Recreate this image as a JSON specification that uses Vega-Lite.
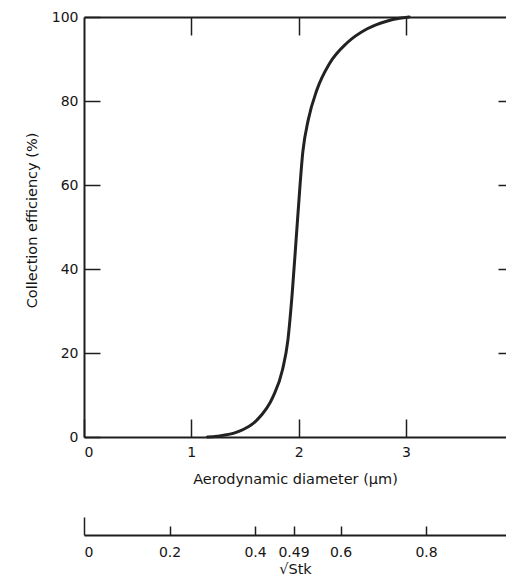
{
  "$schema": "https://vega.github.io/schema/vega-lite/v6.json",
  "width": 422,
  "height": 420,
  "autosize": {"type": "none"},
  "padding": {"left": 84, "top": 17, "right": 0, "bottom": 151},
  "background": "white",
  "config": {
    "view": {"stroke": null},
    "axis": {
      "grid": false,
      "labelFont": "DejaVu Sans",
      "titleFont": "DejaVu Sans",
      "labelFontSize": 14,
      "titleFontSize": 14.5,
      "titleFontWeight": "normal",
      "labelColor": "#151515",
      "titleColor": "#151515",
      "domainColor": "#1e1e1e",
      "domainWidth": 2,
      "tickColor": "#1e1e1e",
      "tickWidth": 1.5
    }
  },
  "layer": [
    {
      "data": {"values": [
        {"d": 1.15, "eff": 0},
        {"d": 1.24, "eff": 0.2},
        {"d": 1.43, "eff": 1.2},
        {"d": 1.61, "eff": 4},
        {"d": 1.76, "eff": 9.5},
        {"d": 1.85, "eff": 16},
        {"d": 1.90, "eff": 23},
        {"d": 1.94, "eff": 34},
        {"d": 1.99, "eff": 51.7},
        {"d": 2.04, "eff": 68},
        {"d": 2.09, "eff": 75.5},
        {"d": 2.17, "eff": 82.6},
        {"d": 2.29, "eff": 89},
        {"d": 2.45, "eff": 93.8},
        {"d": 2.64, "eff": 97.2},
        {"d": 2.82, "eff": 99.0},
        {"d": 2.94, "eff": 99.7},
        {"d": 3.03, "eff": 100}
      ]},
      "mark": {"type": "line", "interpolate": "monotone", "color": "#222222", "strokeWidth": 3, "strokeCap": "round"},
      "encoding": {
        "x": {
          "field": "d", "type": "quantitative",
          "scale": {"domain": [0, 3.933], "nice": false, "zero": false},
          "axis": {"orient": "bottom", "values": [0, 1, 2, 3], "format": "d", "tickSize": -18, "labelPadding": 26, "title": "Aerodynamic diameter (μm)", "titlePadding": 13}
        },
        "y": {
          "field": "eff", "type": "quantitative",
          "scale": {"domain": [0, 100], "nice": false},
          "axis": {"orient": "left", "values": [0, 20, 40, 60, 80, 100], "format": "d", "tickSize": -16, "labelPadding": 22, "title": "Collection efficiency (%)", "titlePadding": 12, "titleY": 203}
        }
      }
    },
    {
      "data": {"values": [{"d": 0, "eff": 0}, {"d": 3.933, "eff": 100}]},
      "mark": {"type": "line", "opacity": 0},
      "encoding": {
        "x": {
          "field": "d", "type": "quantitative",
          "scale": {"domain": [0, 3.933], "nice": false, "zero": false},
          "axis": {"orient": "top", "values": [1, 2, 3], "labels": false, "tickSize": -18, "title": null}
        },
        "y": {
          "field": "eff", "type": "quantitative",
          "scale": {"domain": [0, 100], "nice": false},
          "axis": {"orient": "right", "values": [20, 40, 60, 80], "labels": false, "domain": false, "tickSize": -8, "title": null}
        }
      }
    },
    {
      "data": {"values": [{"s": 0}, {"s": 0.987}]},
      "mark": {"type": "point", "opacity": 0},
      "encoding": {
        "x": {
          "field": "s", "type": "quantitative",
          "scale": {"domain": [0, 0.987], "nice": false, "zero": false},
          "axis": {
            "orient": "bottom", "offset": 98,
            "values": [0, 0.2, 0.4, 0.49, 0.6, 0.8],
            "labelExpr": "'' + datum.value",
            "tickSize": {"condition": {"test": "datum.value === 0", "value": -18}, "value": -9},
            "labelPadding": {"condition": {"test": "datum.value === 0", "value": 28}, "value": 19},
            "title": "√Stk", "titlePadding": 3
          }
        }
      }
    }
  ],
  "resolve": {"scale": {"x": "independent", "y": "independent"}}
}
